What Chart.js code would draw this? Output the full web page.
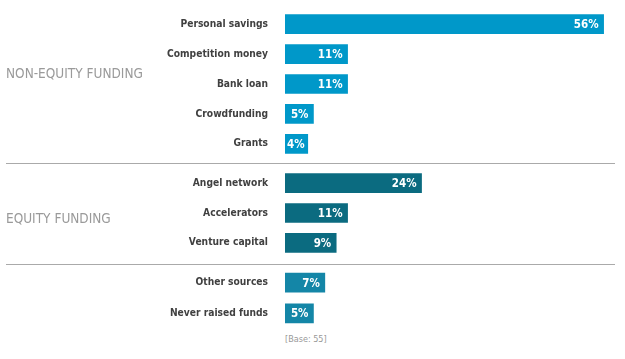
<!DOCTYPE html>
<html>
<head>
<meta charset="utf-8">
<script src="https://cdn.jsdelivr.net/npm/chart.js@4"></script>
<style>
  html, body { margin: 0; padding: 0; background: #fff; }
  #wrap { position: relative; width: 625px; height: 359px; overflow: hidden; font-family: "DejaVu Sans Condensed", "DejaVu Sans", sans-serif; }
  #wrap canvas { position: absolute; left: 0; }
  .group { position: absolute; left: 6px; color: #9a9a9a; font-size: 13.5px; line-height: 14px; white-space: nowrap; }
  .rule { position: absolute; left: 6px; width: 609px; height: 1px; background: #aaaaaa; }
  .base { position: absolute; left: 285px; top: 334px; font-size: 9px; line-height: 10px; color: #999; }
</style>
</head>
<body>
<div id="wrap">
  <canvas id="nonEquity" width="625" height="150" style="top:9px"></canvas>
  <canvas id="equity" width="625" height="90" style="top:168px"></canvas>
  <canvas id="other" width="625" height="62" style="top:267px"></canvas>
  <div class="group" style="top:66px">NON-EQUITY FUNDING</div>
  <div class="group" style="top:211px">EQUITY FUNDING</div>
  <div class="rule" style="top:163px"></div>
  <div class="rule" style="top:264px"></div>
  <div class="base">[Base: 55]</div>
</div>
<script>
const nonEquityLabels = ["Personal savings", "Competition money", "Bank loan", "Crowdfunding", "Grants"];
const nonEquityValues = [56, 11, 11, 5, 4];

const equityLabels = ["Angel network", "Accelerators", "Venture capital"];
const equityValues = [24, 11, 9];

const otherLabels = ["Other sources", "Never raised funds"];
const otherValues = [7, 5];

const xMax = 58;

// white % text at the end of each bar
const valueLabels = {
  id: 'valueLabels',
  afterDatasetsDraw(chart) {
    const ctx = chart.ctx;
    const meta = chart.getDatasetMeta(0);
    const data = chart.data.datasets[0].data;
    ctx.save();
    ctx.fillStyle = '#fff';
    ctx.font = 'bold 11.5px "DejaVu Sans Condensed"';
    ctx.textAlign = 'right';
    ctx.textBaseline = 'middle';
    meta.data.forEach((bar, i) => {
      const txt = data[i] + '%';
      const w = ctx.measureText(txt).width;
      const x = Math.max(bar.x - 5, bar.base + w + 2);
      ctx.fillText(txt, x, bar.y + 1);
    });
    ctx.restore();
  }
};

function makeChart(id, labels, values, color) {
  return new Chart(document.getElementById(id), {
    type: 'bar',
    data: {
      labels: labels,
      datasets: [{ data: values, backgroundColor: color, barThickness: 19 }]
    },
    options: {
      indexAxis: 'y',
      responsive: false,
      animation: false,
      layout: { autoPadding: false, padding: { left: 0, right: 10, top: 0, bottom: 0 } },
      plugins: { legend: { display: false }, tooltip: { enabled: false } },
      scales: {
        x: { display: false, min: 0, max: xMax },
        y: {
          grid: { display: false, drawTicks: true, tickLength: 17 },
          border: { display: false },
          ticks: {
            padding: 0,
            color: '#404040',
            // tiny lineHeight so the labels add no vertical padding to the axis
            font: { family: 'DejaVu Sans Condensed', weight: 'bold', size: 10.2, lineHeight: 0.05 }
          },
          afterFit(axis) { axis.width = 285; }
        }
      }
    },
    plugins: [valueLabels]
  });
}

makeChart('nonEquity', nonEquityLabels, nonEquityValues, '#0098c9');
makeChart('equity', equityLabels, equityValues, '#0b6b80');
makeChart('other', otherLabels, otherValues, '#1486a7');
</script>
</body>
</html>
